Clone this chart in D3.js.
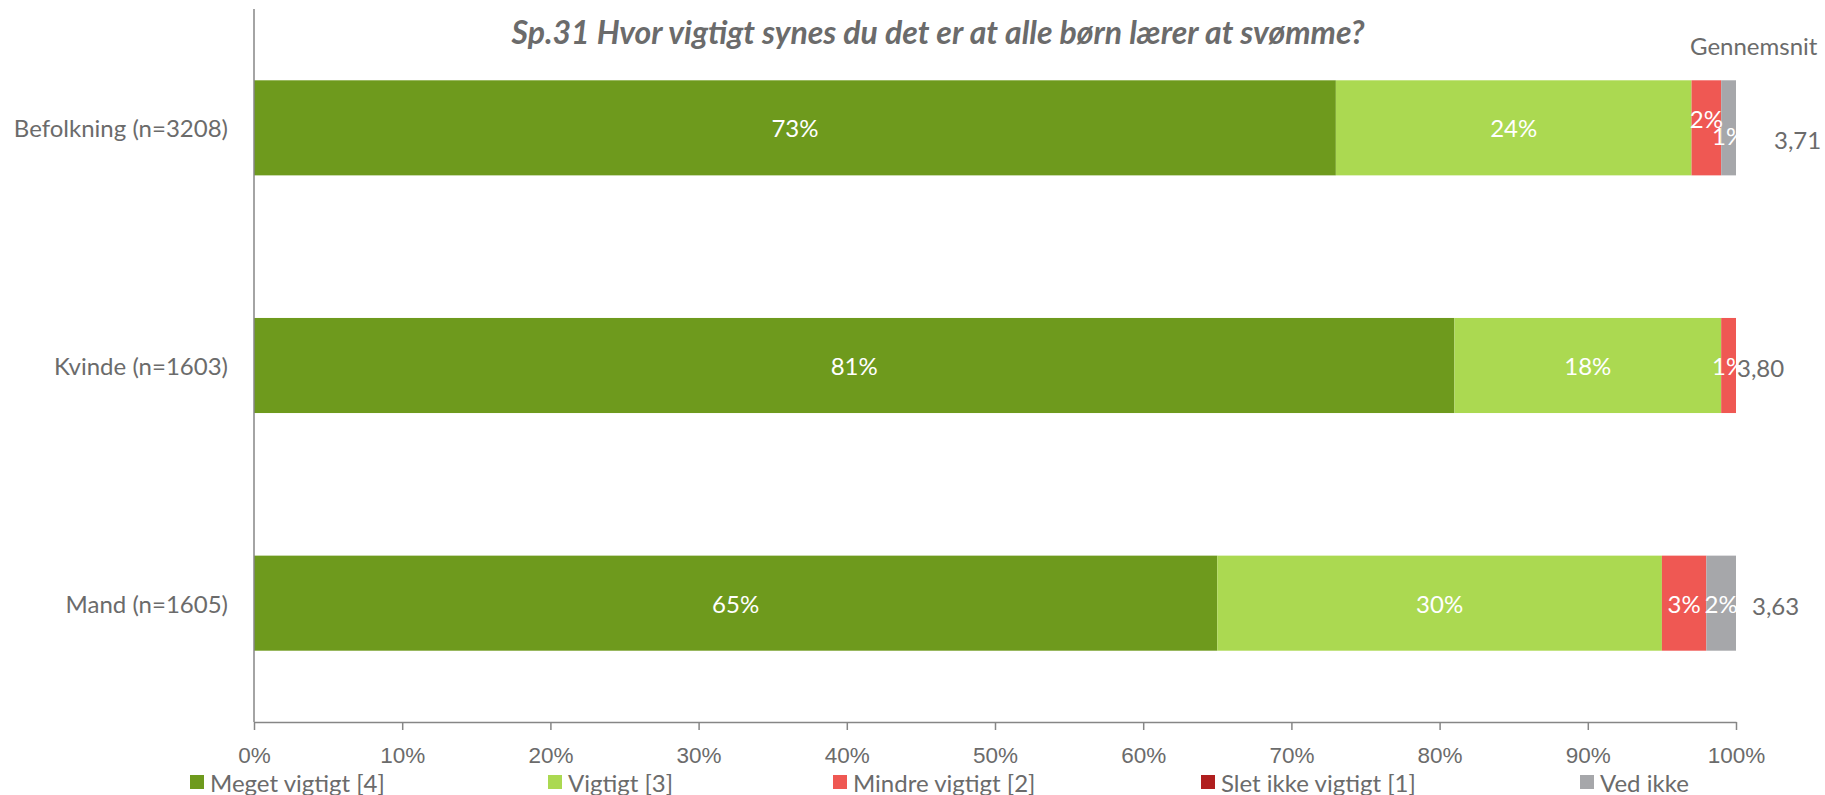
<!DOCTYPE html>
<html>
<head>
<meta charset="utf-8">
<script src="https://cdn.jsdelivr.net/npm/d3@7"></script>
<style>
    body { margin: 0; background: #fff; }
    svg { display: block; font-family: Lato, "Open Sans", sans-serif; }
</style>
</head>
<body>
<div id="graph"></div>
<script>
// Chart data
var title = 'Sp.31 Hvor vigtigt synes du det er at alle børn lærer at svømme?';
var groups = ['Befolkning (n=3208)', 'Kvinde (n=1603)', 'Mand (n=1605)'];
var answers = ['Meget vigtigt [4]', 'Vigtigt [3]', 'Mindre vigtigt [2]', 'Slet ikke vigtigt [1]', 'Ved ikke'];
var megetVigtigt = [73, 81, 65];
var vigtigt = [24, 18, 30];
var mindreVigtigt = [2, 1, 3];
var sletIkkeVigtigt = [0, 0, 0];
var vedIkke = [1, 0, 2];
var averages = ['3,71', '3,80', '3,63'];
var averageHeader = 'Gennemsnit';
var xTicks = [0, 0.1, 0.2, 0.3, 0.4, 0.5, 0.6, 0.7, 0.8, 0.9, 1];

// Colours
var colors = ['#6e9a1d', '#abd951', '#ef5853', '#b01f1f', '#a6a7aa'];
var textColor = '#6b6b6b';

// Layout
var W = 1825, H = 795;
var plot = {left: 254, right: 1736, top: 9, bottom: 722};
var legendX = [190, 548, 833, 1201, 1580];
var avgDx = [38, 1, 16];
// small label nudges where Excel moved overlapping labels
var labelDy = {'0-2': -9, '0-4': 8};
var avgDy = [12, 2, 2];
var fontSize = 24;

var seriesValues = [megetVigtigt, vigtigt, mindreVigtigt, sletIkkeVigtigt, vedIkke];

// Build table for stacking
var table = groups.map(function(g, i) {
    var row = {group: g};
    answers.forEach(function(a, j) { row[a] = seriesValues[j][i] / 100; });
    return row;
});
var stacked = d3.stack().keys(answers)(table);

// Scales
var x = d3.scaleLinear().domain([0, 1]).range([plot.left, plot.right]);
var y = d3.scaleBand().domain(groups).range([plot.top, plot.bottom])
    .paddingInner(0.6).paddingOuter(0.3);

var svg = d3.select('#graph')
    .append('svg')
    .attr('width', W)
    .attr('height', H);

svg.append('defs').append('clipPath')
    .attr('id', 'plotClip')
    .append('rect')
    .attr('x', plot.left).attr('y', 0)
    .attr('width', plot.right - plot.left).attr('height', plot.bottom);

// Bars
var layer = svg.append('g')
    .selectAll('g')
    .data(stacked)
    .enter()
    .append('g')
    .attr('fill', function(d, i) { return colors[i]; });

layer.selectAll('rect')
    .data(function(d) { return d; })
    .enter()
    .append('rect')
    .attr('x', function(d) { return x(d[0]); })
    .attr('y', function(d) { return y(d.data.group); })
    .attr('width', function(d) { return x(d[1]) - x(d[0]); })
    .attr('height', y.bandwidth());

// Data labels (hidden when 0)
var labels = svg.append('g').attr('clip-path', 'url(#plotClip)');
stacked.forEach(function(s, j) {
    s.forEach(function(d, i) {
        var v = seriesValues[j][i];
        if (!v) return;
        labels.append('text')
            .attr('x', (x(d[0]) + x(d[1])) / 2)
            .attr('y', y(d.data.group) + y.bandwidth() / 2 + (labelDy[i + '-' + j] || 0))
            .attr('text-anchor', 'middle')
            .attr('dominant-baseline', 'central')
            .attr('fill', '#fff')
            .attr('font-size', fontSize)
            .text(v + '%');
    });
});

// Axes
var xAxis = d3.axisBottom(x)
    .tickValues(xTicks)
    .tickFormat(d3.format('.0%'))
    .tickSize(8)
    .tickSizeOuter(0);

var gx = svg.append('g')
    .attr('transform', 'translate(0,' + plot.bottom + ')')
    .call(xAxis);
gx.select('.domain').attr('stroke', '#868686').attr('stroke-width', 1.5);
gx.selectAll('.tick line').attr('stroke', '#868686').attr('stroke-width', 1.5);
gx.selectAll('.tick text')
    .attr('fill', textColor)
    .attr('font-size', 22.5)
    .attr('y', 33)
    .attr('dy', '0.35em');

svg.append('line')
    .attr('x1', plot.left).attr('x2', plot.left)
    .attr('y1', plot.top).attr('y2', plot.bottom)
    .attr('stroke', '#868686')
    .attr('stroke-width', 1.5);

// Category labels
svg.append('g')
    .selectAll('text')
    .data(groups)
    .enter()
    .append('text')
    .attr('x', plot.left - 26)
    .attr('y', function(d) { return y(d) + y.bandwidth() / 2; })
    .attr('text-anchor', 'end')
    .attr('dominant-baseline', 'central')
    .attr('fill', textColor)
    .attr('font-size', fontSize)
    .text(function(d) { return d; });

// Averages
svg.append('text')
    .attr('x', 1690)
    .attr('y', 45)
    .attr('dominant-baseline', 'central')
    .attr('fill', textColor)
    .attr('font-size', fontSize)
    .text(averageHeader);

svg.append('g')
    .selectAll('text')
    .data(averages)
    .enter()
    .append('text')
    .attr('x', function(d, i) { return x(1) + avgDx[i]; })
    .attr('y', function(d, i) { return y(groups[i]) + y.bandwidth() / 2 + avgDy[i]; })
    .attr('dominant-baseline', 'central')
    .attr('fill', textColor)
    .attr('font-size', fontSize)
    .text(function(d) { return d; });

// Title
svg.append('text')
    .attr('x', 938)
    .attr('y', 31)
    .attr('text-anchor', 'middle')
    .attr('dominant-baseline', 'central')
    .attr('fill', textColor)
    .attr('font-size', 32)
    .attr('font-weight', 'bold')
    .attr('font-style', 'italic')
    .text(title);

// Legend
var legend = svg.append('g')
    .selectAll('g')
    .data(answers)
    .enter()
    .append('g')
    .attr('transform', function(d, i) { return 'translate(' + legendX[i] + ',782)'; });

legend.append('rect')
    .attr('x', 0).attr('y', -7)
    .attr('width', 14).attr('height', 14)
    .attr('fill', function(d, i) { return colors[i]; });

legend.append('text')
    .attr('x', 20)
    .attr('dominant-baseline', 'central')
    .attr('fill', textColor)
    .attr('font-size', fontSize)
    .text(function(d) { return d; });
</script>
</body>
</html>
